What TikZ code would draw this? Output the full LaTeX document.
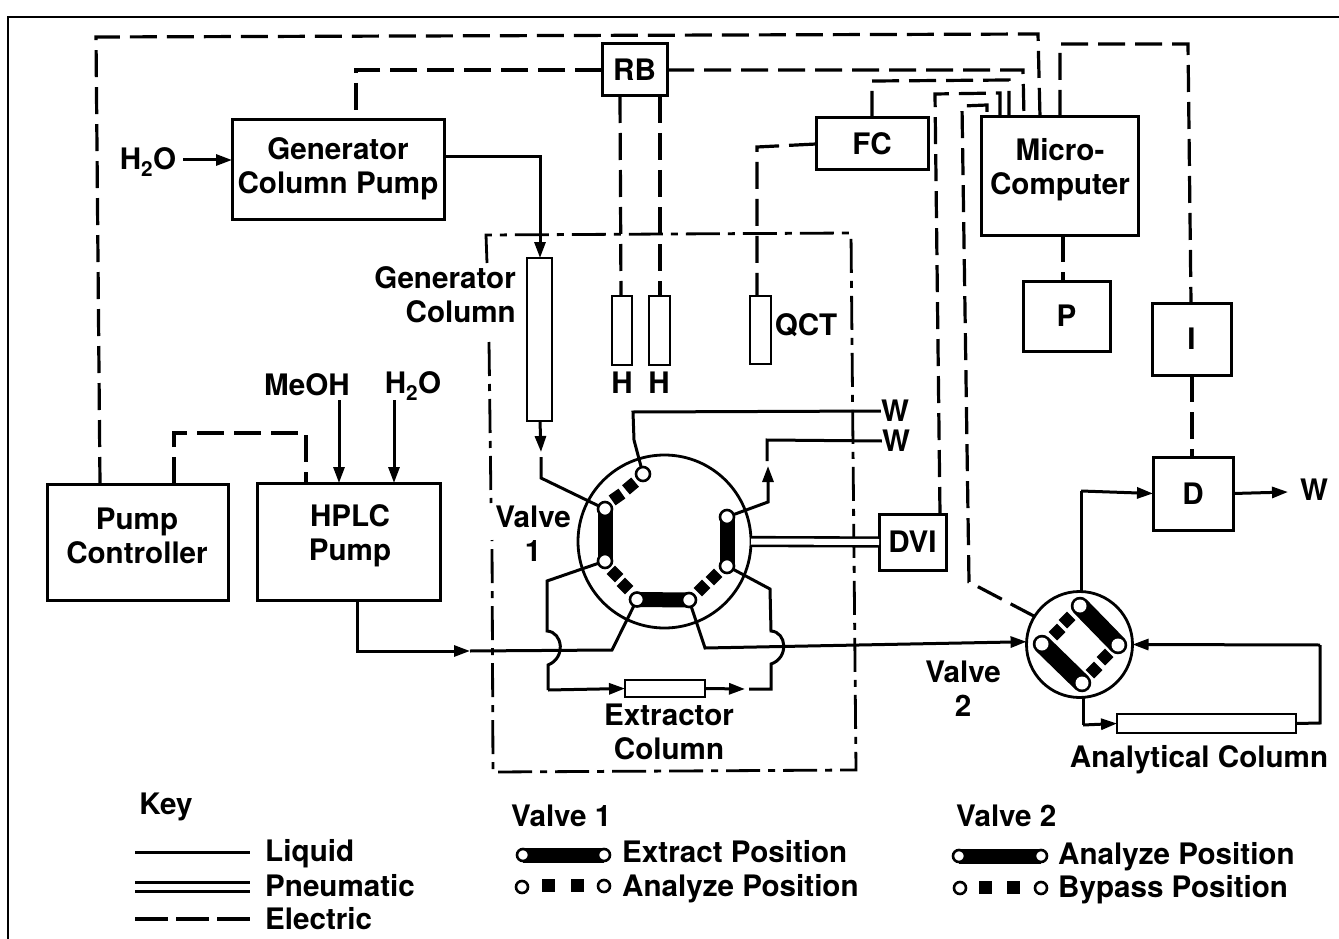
\documentclass[tikz,border=0pt]{standalone}
\usepackage{fontspec}
\setmainfont{TeX Gyre Heros}
\usetikzlibrary{arrows.meta}
\tikzset{
  lbl/.style={font=\fontsize{29.6}{34}\selectfont\bfseries,inner sep=0pt,align=center},
  box/.style={draw,line width=3pt,inner sep=0pt,outer sep=0pt,align=center,font=\fontsize{29.6}{34}\selectfont\bfseries,fill=white},
  tube/.style={draw,line width=2.6pt,inner sep=0pt,outer sep=0pt,fill=white},
  liquid/.style={line width=3pt,line join=miter},
  arrowed/.style={liquid,-{Triangle[length=16pt,width=11pt]}},
  electric/.style={line width=3.2pt,dash pattern=on 27pt off 10pt},
  enclosure/.style={line width=2.8pt,dash pattern=on 34pt off 8pt on 7pt off 8pt},
  pneumatic/.style={double,double distance=6pt,line width=2.6pt},
  valve/.style={circle,draw,line width=2.8pt,fill=white,inner sep=0pt,outer sep=0pt},
  port/.style={circle,draw,line width=2.6pt,fill=white,inner sep=0pt,outer sep=0pt,minimum size=14pt},
  port2/.style={circle,fill=white,inner sep=0pt,outer sep=0pt,minimum size=13pt},
  bar/.style={line width=15pt,line cap=butt},
  bar2/.style={line width=18.5pt,line cap=round},
  stop/.style={rectangle,fill=black,inner sep=0pt,minimum size=12pt},
  keystop/.style={rectangle,fill=black,inner sep=0pt,minimum size=13pt}
}
\begin{document}
\begin{tikzpicture}[x=1pt,y=-1pt]
\useasboundingbox (0,0) rectangle (1339,939);
% frame
\draw[line width=2pt] (8,939) -- (8,17) -- (1339,17);

% boxes
\node[box,minimum width=65pt,minimum height=52pt] (rb) at (634.5,70) {RB};
\node[box,minimum width=212pt,minimum height=99pt] (gcp) at (338,169.5) {};
\node[lbl] (gcpl) at (338,168.5) {Generator\\Column Pump};
\node[box,minimum width=112pt,minimum height=52pt] (fc) at (872,144) {FC};
\node[box,minimum width=157pt,minimum height=118pt] (mc) at (1059.5,176) {};
\node[lbl] (mcl) at (1060,170) {Micro-\\Computer};
\node[box,minimum width=87pt,minimum height=70pt] (p) at (1066.5,316) {P};
\node[box,minimum width=79pt,minimum height=72pt] (i) at (1191.5,339) {I};
\node[box,minimum width=80pt,minimum height=73pt] (d) at (1193,493.5) {D};
\node[box,minimum width=67pt,minimum height=56pt] (dvi) at (912.5,542) {DVI};
\node[box,minimum width=181pt,minimum height=116pt] (pc) at (137.5,542) {};
\node[lbl] (pcl) at (137,536) {Pump\\Controller};
\node[box,minimum width=183pt,minimum height=117pt] (hplc) at (348.5,541.5) {};
\node[lbl] (hplcl) at (350,536) {HPLC\\Pump};

% columns
\node[tube,minimum width=25pt,minimum height=163pt] (gc) at (539.5,339.5) {};
\node[tube,minimum width=20pt,minimum height=69pt] (h1) at (622,330.5) {};
\node[tube,minimum width=21pt,minimum height=69pt] (h2) at (659.5,330.5) {};
\node[tube,minimum width=21pt,minimum height=68pt] (qct) at (760.5,330) {};
\node[tube,minimum width=80pt,minimum height=17pt] (ec) at (665,688.5) {};
\node[tube,minimum width=179pt,minimum height=19pt] (ac) at (1206.5,723.5) {};

% valves
\node[valve,minimum size=173pt] (v1) at (664.5,541.5) {};
\node[valve,minimum size=106pt] (v2) at (1079.5,644.5) {};

% valve 1 internals
\draw[bar] (605,509) -- (605,561);
\draw[bar] (637,599.5) -- (689,600);
\draw[bar] (727,517) -- (727,566);
\node[stop,rotate=35] (s1) at (617,497) {};
\node[stop,rotate=40] (s2) at (630.5,486) {};
\node[stop,rotate=-45] (s3) at (615,574) {};
\node[stop,rotate=-45] (s4) at (625,586) {};
\node[stop,rotate=45] (s5) at (702,588) {};
\node[stop,rotate=45] (s6) at (714,577) {};
\node[port] (p1) at (643,474) {};
\node[port] (p2) at (605,509) {};
\node[port] (p3) at (605,561) {};
\node[port] (p4) at (637,599.5) {};
\node[port] (p5) at (689,600) {};
\node[port] (p6) at (727,566) {};
\node[port] (p7) at (727,517) {};

% valve 2 internals
\draw[bar2] (1080,606) -- (1118,645);
\draw[bar2] (1042,644) -- (1082,683);
\node[stop,rotate=45] (t1) at (1057,632) {};
\node[stop,rotate=45] (t2) at (1067,620) {};
\node[stop,rotate=45] (t3) at (1094,670) {};
\node[stop,rotate=45] (t4) at (1105,657) {};
\node[port2] at (1080,606) {};
\node[port2] at (1118,645) {};
\node[port2] at (1042,644) {};
\node[port2] at (1082,683) {};

% text labels
\node[lbl] (h2oa) at (148,162) {H\textsubscript{2}O};
\node[lbl,anchor=east] (gclab) at (516,295) {\hfill Generator\\\hfill Column};
\node[lbl] (hl1) at (622,383) {H};
\node[lbl] (hl2) at (659,383) {H};
\node[lbl] (qctl) at (806,325) {QCT};
\node[lbl] (meoh) at (307,385) {MeOH};
\node[lbl] (h2ob) at (413,386) {H\textsubscript{2}O};
\node[lbl] (w1) at (895,411) {W};
\node[lbl] (w2) at (896,441) {W};
\node[lbl] (w3) at (1314,490) {W};
\node[lbl] (v1l) at (533,534) {Valve\\1};
\node[lbl] (v2l) at (963,689) {Valve\\2};
\node[lbl] (ecl) at (669,732) {Extractor\\Column};
\node[lbl] (acl) at (1199,760) {Analytical Column};

% electric connectors
\draw[electric] (100,0 |- pc.north) -- (96,37) -- (1038,34) -- (1040,0 |- mc.north);
\draw[electric] (rb.east) -- (1023,70) -- (1024,0 |- mc.north);
\draw[electric] (rb.west) -- (356,70) -- (356,0 |- gcp.north);
\draw[electric] (620,0 |- rb.south) -- (621,0 |- h1.north);
\draw[electric] (660,0 |- rb.south) -- (660,0 |- h2.north);
\draw[electric] (872,0 |- fc.north) -- (872,81) -- (1009,80) -- (1009,0 |- mc.north);
\draw[electric] (940,0 |- dvi.north) -- (935,94) -- (1000,93) -- (1000,0 |- mc.north);
\draw[electric] (v2.148) -- (969,582) -- (962,106) -- (987,105) -- (987,0 |- mc.north);
\draw[electric] (1060,0 |- mc.north) -- (1060,44) -- (1188,44) -- (1191,0 |- i.north);
\draw[electric] (fc.west) -- (757,147) -- (757,0 |- qct.north);
\draw[electric] (1063,0 |- mc.south) -- (1063,0 |- p.north);
\draw[electric] (1192,0 |- i.south) -- (1192,0 |- d.north);
\draw[electric] (174,0 |- pc.north) -- (174,433) -- (306,433) -- (306,0 |- hplc.north);

% enclosure
\draw[enclosure] (487,263) -- (486,235) -- (851,233) -- (856,770) -- (493,772) -- (492,540);
\draw[enclosure] (489,342) -- (491,503);

% liquid connectors
\draw[arrowed] (183,160) -- (232,160);
\draw[arrowed] (444,157) -- (540,157) -- (540,0 |- gc.north);
\draw[arrowed] (339,400) -- (339,0 |- hplc.north);
\draw[arrowed] (394,400) -- (394,0 |- hplc.north);
\draw[arrowed] (540,0 |- gc.south) -- (541,452);
\draw[liquid] (541,457) -- (541,478) -- (p2);
\draw[liquid] (p1) -- (634,440) -- (633,412) -- (w1.west);
\draw[liquid] (w2.west) -- (767,440) -- (767,461);
\draw[arrowed] (p7) -- (768,502) -- (768,466);
\draw[liquid] (p3) -- (547,581) -- (547,631) .. controls (563,632) and (566,658) .. (548,665) -- (548,690);
\draw[arrowed] (548,690) -- (ec.west);
\draw[arrowed] (ec.east) -- (745,689);
\draw[liquid] (749,689) -- (771,689) -- (771,664) .. controls (789,658) and (787,632) .. (771,631) -- (770,589) -- (p6);
\draw[arrowed] (357,0 |- hplc.south) -- (357,651) -- (470,651);
\draw[liquid] (470,651) -- (612,650) -- (p4);
\draw[arrowed] (p5) -- (705,648) -- (v2.177);
\draw[liquid] (1083,0 |- v2.south) -- (1083,725);
\draw[arrowed] (1083,725) -- (ac.west);
\draw[liquid] (ac.east) -- (1320,723) -- (1320,645);
\draw[arrowed] (1320,645) -- (v2.east);
\draw[liquid] (1081,0 |- v2.north) -- (1081,491);
\draw[arrowed] (1081,491) -- (d.west);
\draw[arrowed] (d.east) -- (1288,492);
\draw[pneumatic] (v1.east) -- (dvi.west);

% key
\node[lbl] (key) at (166,807) {Key};
\coordinate (k1) at (135,852); \coordinate (k2) at (250,852);
\coordinate (k3) at (135,887); \coordinate (k4) at (250,887);
\coordinate (k5) at (135,919); \coordinate (k6) at (250,919);
\draw[liquid] (k1) -- (k2);
\draw[pneumatic] (k3) -- (k4);
\draw[line width=3.2pt,dash pattern=on 33pt off 8pt] (k5) -- (k6);
\node[lbl,anchor=west] (liq) at (265,854) {Liquid};
\node[lbl,anchor=west] (pne) at (265,886) {Pneumatic};
\node[lbl,anchor=west] (ele) at (265,919) {Electric};

\node[lbl,anchor=west] (kv1) at (511,816) {Valve 1};
\draw[bar] (523,855) -- (604,855);
\node[port,minimum size=12pt] at (523,855) {};
\node[port,minimum size=12pt] at (604,855) {};
\node[port,minimum size=12pt] at (522,887) {};
\node[keystop] at (548,885) {};
\node[keystop] at (577,885) {};
\node[port,minimum size=12pt] at (604,886) {};
\node[lbl,anchor=west] (ep) at (622,852) {Extract Position};
\node[lbl,anchor=west] (ap) at (622,889) {Analyze Position};

\node[lbl,anchor=west] (kv2) at (956,816) {Valve 2};
\draw[bar] (959,856) -- (1041,856);
\node[port,minimum size=12pt] at (959,856) {};
\node[port,minimum size=12pt] at (1041,856) {};
\node[port,minimum size=12pt] at (960,888) {};
\node[keystop] at (985,887) {};
\node[keystop] at (1013,887) {};
\node[port,minimum size=12pt] at (1041,888) {};
\node[lbl,anchor=west] (ap2) at (1058,857) {Analyze Position};
\node[lbl,anchor=west] (bp) at (1058,890) {Bypass Position};
\end{tikzpicture}
\end{document}
